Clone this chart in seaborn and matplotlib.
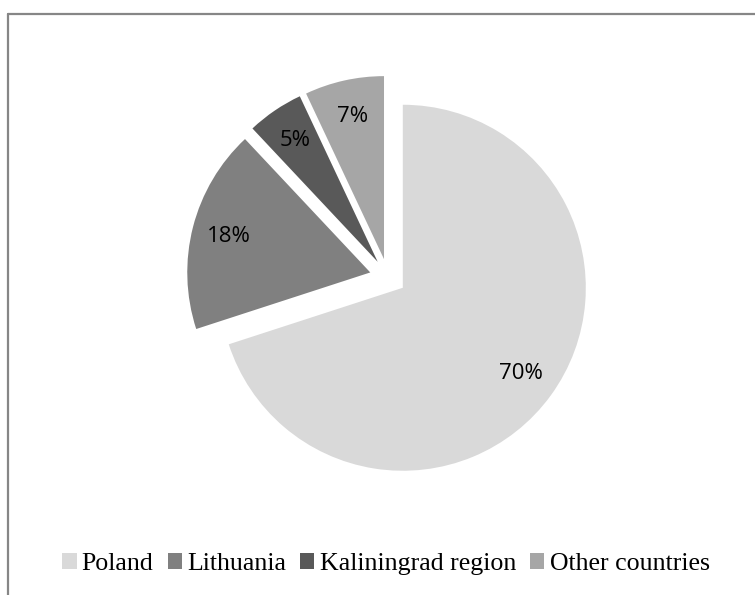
import matplotlib
matplotlib.use("Agg")
import matplotlib.pyplot as plt
import seaborn as sns
from matplotlib.patches import Patch
from matplotlib.lines import Line2D

categories = ["Poland", "Lithuania", "Kaliningrad region", "Other countries"]
values = [70, 18, 5, 7]
colors = ["#d9d9d9", "#808080", "#595959", "#a6a6a6"]

sns.set_theme(style="white")
palette = sns.color_palette(colors)

fig = plt.figure(figsize=(7.55, 5.95), dpi=100)
W, H = 755, 595
R = 183.0
L = 1.25
cx, cy = 388.0, 277.0
side = 2 * L * R
ax = fig.add_axes([(cx - side / 2) / W, (H - cy - side / 2) / H, side / W, side / H])

wedges, texts, autotexts = ax.pie(
    values,
    colors=palette,
    startangle=90,
    counterclock=False,
    explode=[0.1] * len(values),
    autopct=lambda p: f"{p:.0f}%",
    pctdistance=0.8,
    wedgeprops=dict(linewidth=0),
    textprops=dict(fontsize=16, family="Open Sans", color="black"),
)
ax.set_xlim(-L, L)
ax.set_ylim(-L, L)
ax.set_aspect("equal")
ax.axis("off")

# outer frame (left and top lines)
fig.add_artist(Line2D([8 / W, 8 / W], [0, 1 - 14 / H], transform=fig.transFigure,
                      color="#868686", linewidth=1.6))
fig.add_artist(Line2D([8 / W, 1], [1 - 14 / H, 1 - 14 / H], transform=fig.transFigure,
                      color="#868686", linewidth=1.6))

handles = [Patch(facecolor=c, edgecolor="none") for c in palette]
leg = fig.legend(
    handles, categories,
    loc="center", bbox_to_anchor=(386 / W, 1 - 564 / H),
    ncol=4, frameon=False,
    prop=dict(family="Liberation Serif", size=18.6),
    handlelength=0.55, handleheight=0.55, handletextpad=0.2,
    columnspacing=0.55, borderaxespad=0,
)
for t in leg.get_texts():
    t.set_color("black")

fig.savefig("out.png", dpi=100)
